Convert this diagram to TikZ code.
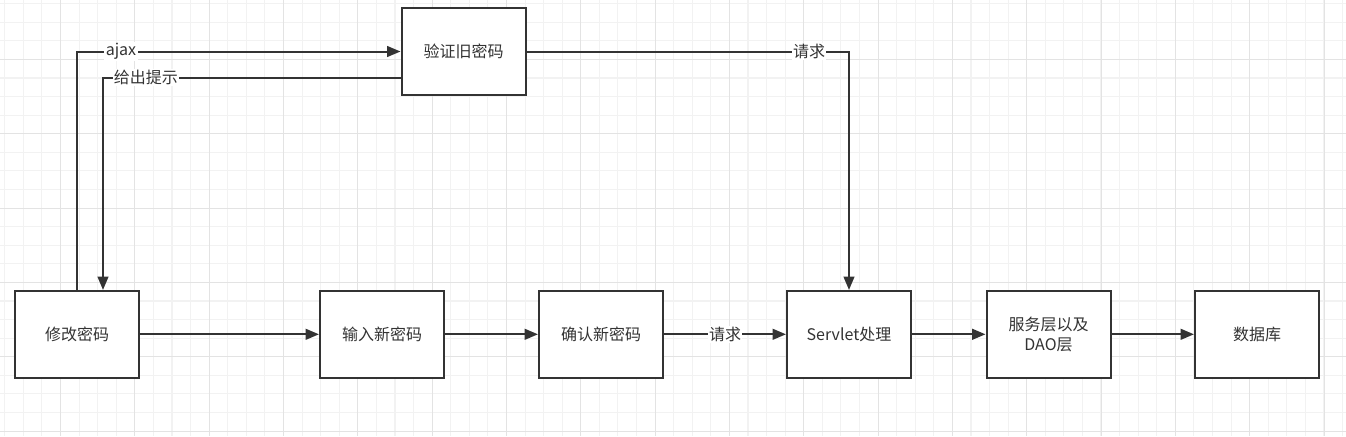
\documentclass[tikz,border=0pt]{standalone}
\usepackage{fontspec}
\newfontfamily\cjk{Noto Sans CJK SC}
\usetikzlibrary{arrows.meta}
\definecolor{ink}{HTML}{333333}
\definecolor{gridminor}{HTML}{F2F2F2}
\definecolor{gridmajor}{HTML}{E3E3E3}
\tikzset{
  box/.style={draw=ink,line width=1.5pt,fill=white,minimum width=93pt,minimum height=65pt,
    inner sep=0pt,align=center,font=\cjk\fontsize{12pt}{15pt}\selectfont,text=ink},
  link/.style={draw=ink,line width=1.5pt,-{Triangle[length=10pt,width=8pt]}},
  lbl/.style={fill=white,inner sep=1pt,font=\cjk\fontsize{12pt}{14pt}\selectfont,text=ink},
}
\begin{document}
\begin{tikzpicture}[x=0.75pt,y=-0.75pt]

\useasboundingbox (0,0) rectangle (1346,436);

% grid
\foreach \i in {0,...,72} \draw[gridminor,line width=0.8pt] ({4.8+18.58*\i},0) -- ({4.8+18.58*\i},436);
\foreach \i in {0,...,23} \draw[gridminor,line width=0.8pt] (0,{3.7+18.58*\i}) -- (1346,{3.7+18.58*\i});
\foreach \i in {0,...,17} \draw[gridmajor,line width=0.8pt] ({60.6+74.33*\i},0) -- ({60.6+74.33*\i},436);
\foreach \i in {0,...,5} \draw[gridmajor,line width=0.8pt] (0,{59.5+74.33*\i}) -- (1346,{59.5+74.33*\i});

% boxes
\node[box] (verify) at (463.5,51.5) {验证旧密码};
\node[box] (change) at (77,334.3) {修改密码};
\node[box] (newpw) at (382,334.3) {输入新密码};
\node[box] (confirm) at (601,334.3) {确认新密码};
\node[box] (servlet) at (849,334.3) {Servlet处理};
\node[box] (service) at (1048.5,334.3) {服务层以及\\DAO层};
\node[box] (db) at (1257,334.3) {数据库};

% connectors
\draw[link] (change.north) |- node[lbl,pos=0.568] {ajax} (verify.west);
\draw[link] ([yshift=-19.5pt]verify.west) -| node[lbl,pos=0.428] {给出提示} ([xshift=19.5pt]change.north);
\draw[link] (verify.east) -| node[lbl,pos=0.438] {请求} (servlet.north);

\draw[link] (change) -- (newpw);
\draw[link] (newpw) -- (confirm);
\draw[link] (confirm) -- node[lbl] {请求} (servlet);
\draw[link] (servlet) -- (service);
\draw[link] (service) -- (db);

\end{tikzpicture}
\end{document}
